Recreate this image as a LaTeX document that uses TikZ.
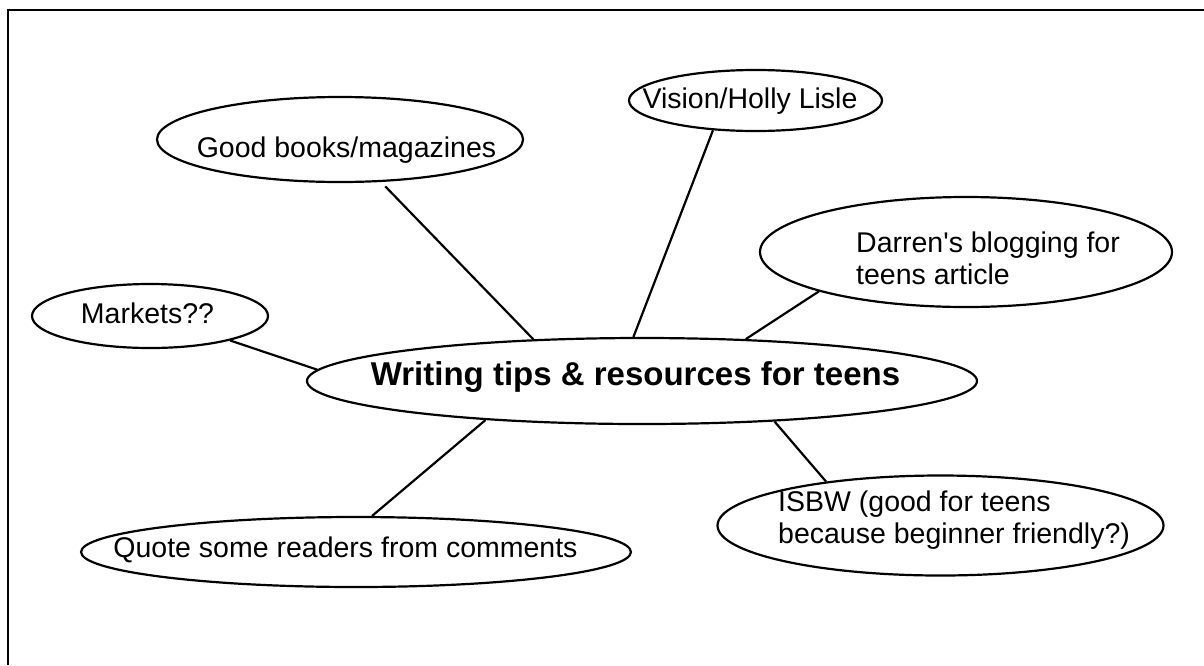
\documentclass[tikz,border=0pt]{standalone}
\usepackage{fontspec}
\setmainfont{Liberation Sans}
\usetikzlibrary{shapes.geometric}
\tikzset{
  bubble/.style={draw, ellipse, line width=2.2pt, inner sep=0pt},
  link/.style={line width=2.2pt},
  txt/.style={inner sep=0pt, font=\fontsize{28.5}{32}\selectfont},
}

\begin{document}
\begin{tikzpicture}[x=1pt,y=-1pt]
  \useasboundingbox (0,0) rectangle (1204,665);
  \draw[line width=2.4pt] (8,665) -- (8,10) -- (1204,10);
  % bubbles
  \node[bubble, minimum width=670pt, minimum height=86pt] (hub) at (642,381) {};
  \node[bubble, minimum width=366pt, minimum height=85pt] (books) at (340,139.5) {};
  \node[bubble, minimum width=253pt, minimum height=61pt] (vision) at (755.5,100.5) {};
  \node[bubble, minimum width=412pt, minimum height=110pt] (darren) at (966,252) {};
  \node[bubble, minimum width=236pt, minimum height=64pt] (markets) at (150,316) {};
  \node[bubble, minimum width=446pt, minimum height=100pt] (isbw) at (940.5,525.5) {};
  \node[bubble, minimum width=550pt, minimum height=70pt] (quote) at (356,552) {};
  % texts
  \node[txt, font=\fontsize{33}{36}\selectfont\bfseries, anchor=base] (hub-t) at (635.5,385) {Writing tips \& resources for teens};
  \node[txt, anchor=base] (books-t) at (346.5,157) {Good books/magazines};
  \node[txt, anchor=base] (vision-t) at (750,108) {Vision/Holly Lisle};
  \node[txt, anchor=base west, align=left] (darren-t) at (856,284) {Darren\textquotesingle s blogging for\\teens article};
  \node[txt, anchor=base] (markets-t) at (147.5,323) {Markets??};
  \node[txt, anchor=base west, align=left] (isbw-t) at (778,543) {ISBW (good for teens\\because beginner friendly?)};
  \node[txt, anchor=base] (quote-t) at (345.5,557) {Quote some readers from comments};
  % links
  \draw[link, shorten <=6pt] (books.-46) -- (hub.159.2);
  \draw[link] (vision.215) -- (hub.101.8);
  \draw[link] (darren.195) -- (hub.22.7);
  \draw[link] (markets.-17.7) -- (hub.178.6);
  \draw[link] (isbw.159.2) -- (hub.-17.9);
  \draw[link] (quote.66) -- (hub.194.5);
\end{tikzpicture}
\end{document}
